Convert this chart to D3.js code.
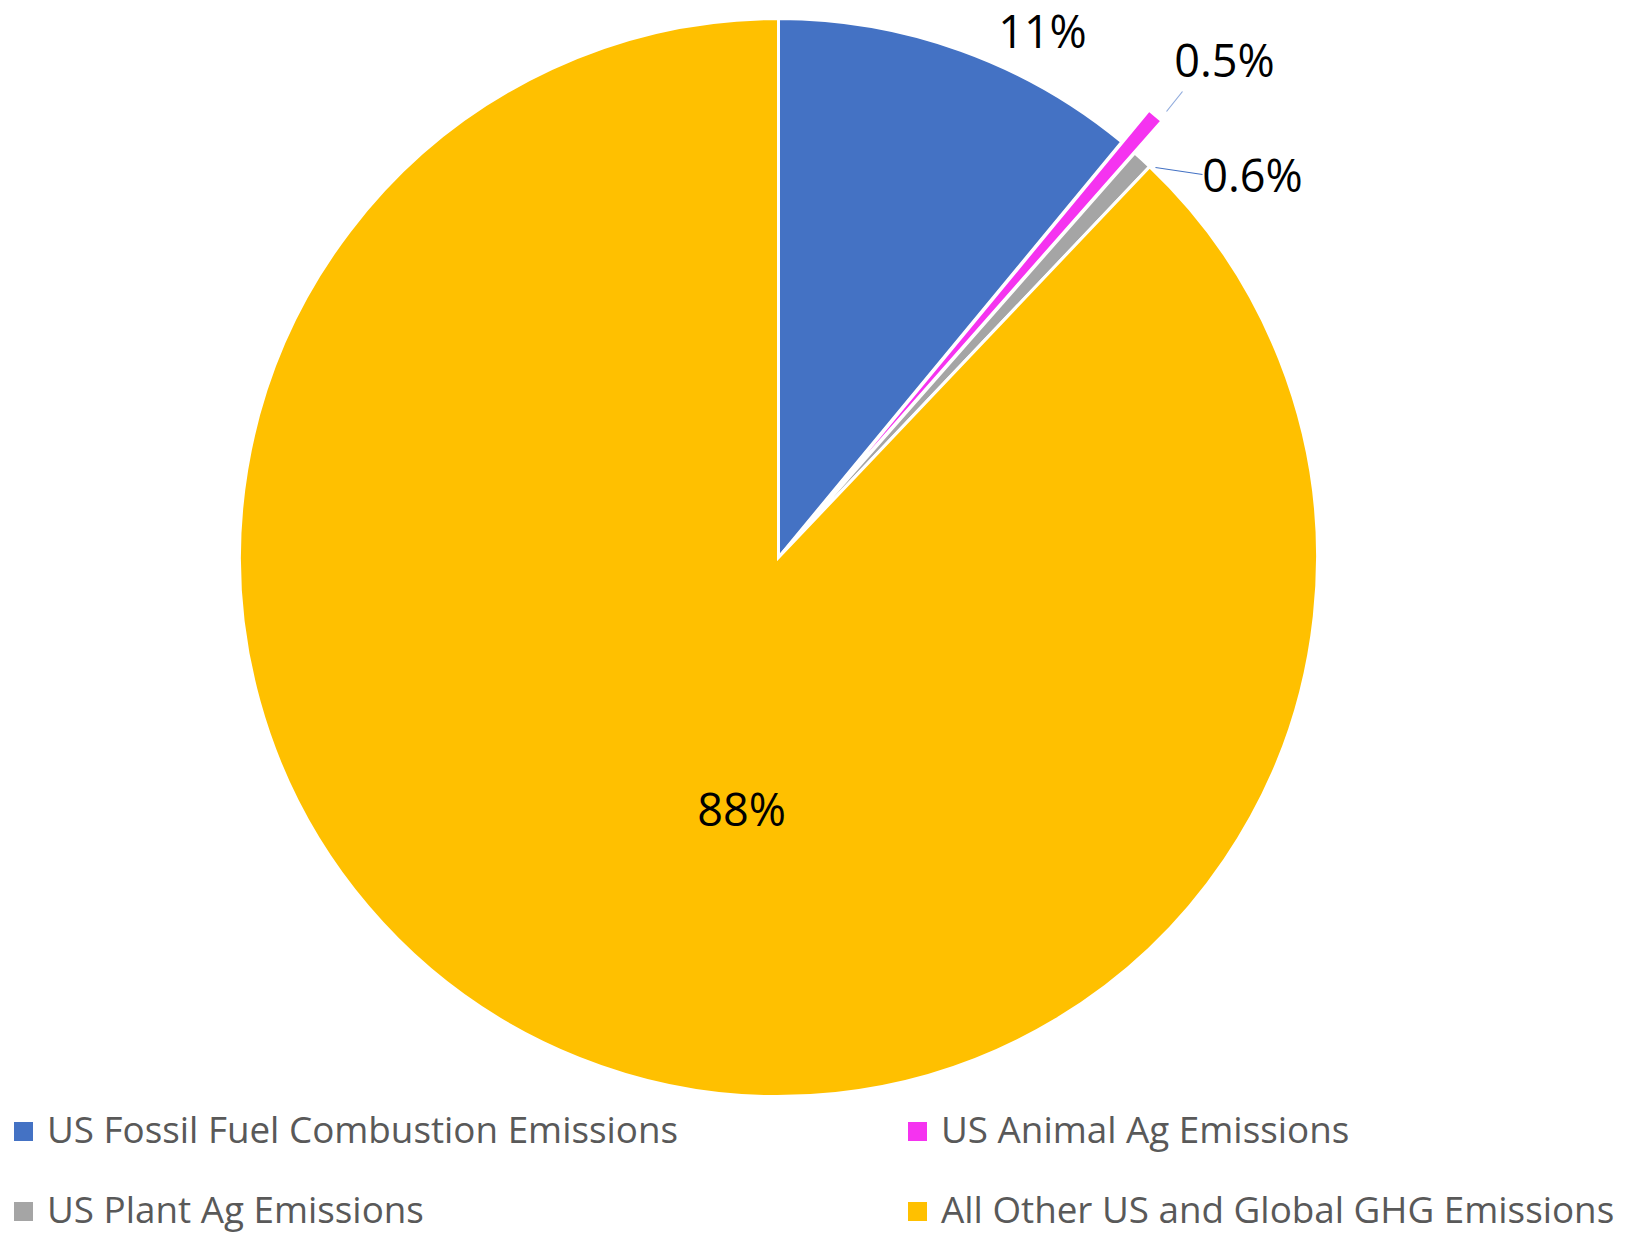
<!DOCTYPE html>
<html>
<head>
<meta charset="utf-8">
<script src="https://cdn.jsdelivr.net/npm/d3@7"></script>
<style>
  html, body { margin: 0; padding: 0; background: #ffffff; }
  svg { display: block; }
</style>
</head>
<body>
<svg id="chart" width="1631" height="1233"></svg>
<script>
// Share of emissions by source (percent)
const categories = [
  "US Fossil Fuel Combustion Emissions",
  "US Animal Ag Emissions",
  "US Plant Ag Emissions",
  "All Other US and Global GHG Emissions"
];
const values = [11, 0.5, 0.6, 88];
const valueLabels = ["11%", "0.5%", "0.6%", "88%"];
const colors = ["#4472C4", "#F533F0", "#A5A5A5", "#FFC000"];

// Layout
const W = 1631, H = 1233;
const cx = 778.5, cy = 557.5, R = 539;
const explodeIndex = 1, explodeDist = 42;

// label anchors relative to pie centre (text centre x, baseline y)
const labelOffsets = [[264, -510], [446, -481], [474, -366], [-37, 268]];
// leader lines for the thin slices: [slice index, start, end] relative to centre
const leaders = [
  [1, [388, -446], [404, -466], "#8FAADC"],
  [2, [377, -390], [424, -383], "#4472C4"]
];

const svg = d3.select("#chart");
const g = svg.append("g").attr("transform", `translate(${cx},${cy})`);

const pie = d3.pie().sort(null).value(d => d.value);
const arcs = pie(categories.map((c, i) => ({ cat: c, value: values[i], i })));
const arc = d3.arc().innerRadius(0).outerRadius(R);

g.selectAll("path.slice")
  .data(arcs)
  .join("path")
  .attr("class", "slice")
  .attr("d", arc)
  .attr("fill", d => colors[d.data.i])
  .attr("stroke", "#ffffff")
  .attr("stroke-width", 3)
  .attr("stroke-linejoin", "miter")
  .attr("transform", d => {
    if (d.data.i !== explodeIndex) return null;
    const a = (d.startAngle + d.endAngle) / 2;
    return `translate(${explodeDist * Math.sin(a)},${-explodeDist * Math.cos(a)})`;
  });

// leader lines
g.selectAll("line.leader")
  .data(leaders)
  .join("line")
  .attr("class", "leader")
  .attr("x1", d => d[1][0]).attr("y1", d => d[1][1])
  .attr("x2", d => d[2][0]).attr("y2", d => d[2][1])
  .attr("stroke", d => d[3])
  .attr("stroke-width", 1.2);

// data labels
g.selectAll("text.val")
  .data(arcs)
  .join("text")
  .attr("class", "val")
  .attr("x", d => labelOffsets[d.data.i][0])
  .attr("y", d => labelOffsets[d.data.i][1])
  .attr("text-anchor", "middle")
  .attr("font-family", "'Open Sans', sans-serif")
  .attr("font-size", 45)
  .attr("fill", "#000000")
  .text(d => valueLabels[d.data.i]);

// legend: two columns, two rows
const legendCols = [14, 908];
const legendRows = [1143, 1223];
const legend = svg.append("g").attr("class", "legend");
const items = legend.selectAll("g.item")
  .data(categories)
  .join("g")
  .attr("class", "item")
  .attr("transform", (d, i) => {
    const col = i === 0 || i === 2 ? 0 : 1;
    const row = i < 2 ? 0 : 1;
    return `translate(${legendCols[col]},${legendRows[row]})`;
  });
items.append("rect")
  .attr("x", 0).attr("y", -21)
  .attr("width", 19).attr("height", 19)
  .attr("fill", (d, i) => colors[i]);
items.append("text")
  .attr("x", 33).attr("y", 0)
  .attr("font-family", "'Open Sans', sans-serif")
  .attr("font-size", 36.8)
  .attr("fill", "#595959")
  .text(d => d);
</script>
</body>
</html>
